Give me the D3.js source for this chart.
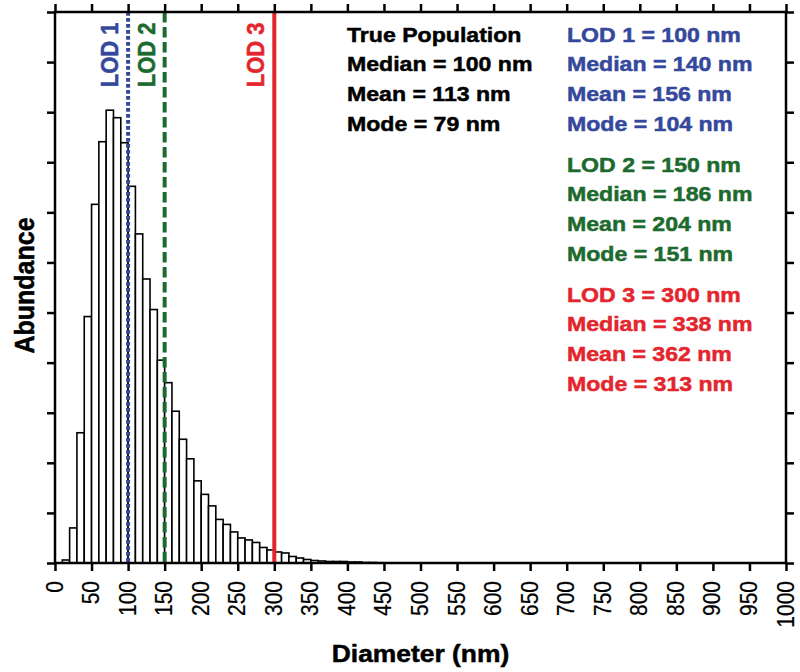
<!DOCTYPE html>
<html>
<head>
<meta charset="utf-8">
<script src="https://cdn.jsdelivr.net/npm/d3@7"></script>
<style>
  html, body { margin: 0; padding: 0; background: #fff; }
  svg { display: block; font-family: "Liberation Sans", Arial, Helvetica, sans-serif; }
</style>
</head>
<body>
<svg id="chart" width="800" height="672"></svg>
<script>
// ---- data ----
const binStarts = [0,10,20,30,40,50,60,70,80,90,100,110,120,130,140,150,160,170,180,190,
  200,210,220,230,240,250,260,270,280,290,300,310,320,330,340,350,360,370,380,390,
  400,410,420,430,440];
const abundance = [0,0.06,0.70,2.60,4.92,7.16,8.41,9.04,8.89,8.39,7.52,6.57,5.67,5.06,4.05,3.60,3.03,2.47,2.08,1.64,
  1.37,1.14,0.87,0.77,0.62,0.50,0.46,0.41,0.31,0.26,0.22,0.20,0.13,0.10,0.07,0.05,0.04,0.03,0.03,0.03,
  0.02,0.02,0.01,0.01,0.005];
const binWidth = 10;
const xTickValues = [0,50,100,150,200,250,300,350,400,450,500,550,600,650,700,750,800,850,900,950,1000];
const yTickValues = [0,1,2,3,4,5,6,7,8,9,10,11];
const lodNames = ["LOD 1","LOD 2","LOD 3"];
const lodValues = [100,150,300];
const lodColors = ["#34489c","#1d6a2e","#e3262d"];
const truePopLines = ["True Population","Median = 100 nm","Mean = 113 nm","Mode = 79 nm"];
const lod1Lines = ["LOD 1 = 100 nm","Median = 140 nm","Mean = 156 nm","Mode = 104 nm"];
const lod2Lines = ["LOD 2 = 150 nm","Median = 186 nm","Mean = 204 nm","Mode = 151 nm"];
const lod3Lines = ["LOD 3 = 300 nm","Median = 338 nm","Mean = 362 nm","Mode = 313 nm"];

// ---- layout ----
const svg = d3.select("#chart");
const L = 55, R = 786, T = 12, B = 563;
const SX = 1.1; // horizontal stretch of text
const x = d3.scaleLinear().domain([0,1000]).range([L,R]);
const y = d3.scaleLinear().domain([0,11]).range([B,T]);

// bars
svg.append("g").selectAll("rect").data(binStarts.map((s,i)=>({s, v: abundance[i]})).filter(d=>d.v>0))
  .join("rect")
  .attr("x", d => x(d.s))
  .attr("width", d => x(d.s+binWidth)-x(d.s))
  .attr("y", d => y(d.v))
  .attr("height", d => y(0)-y(d.v))
  .attr("fill", "#fff")
  .attr("stroke", "#000")
  .attr("stroke-width", 1.6);

// LOD lines
const lodDash = ["3.8,2.2", "10.5,4.5", null];
lodValues.forEach((v,i) => {
  const ln = svg.append("line")
    .attr("x1", x(v)).attr("x2", x(v))
    .attr("y1", T).attr("y2", B)
    .attr("stroke", lodColors[i])
    .attr("stroke-width", 4);
  if (lodDash[i]) ln.attr("stroke-dasharray", lodDash[i]);
  svg.append("text")
    .attr("transform", `translate(${x(v)-10},22.5) scale(${SX},1) rotate(-90)`)
    .attr("text-anchor", "end")
    .attr("font-size", 22)
    .attr("font-weight", "bold")
    .attr("fill", lodColors[i])
    .attr("stroke", lodColors[i]).attr("stroke-width", 0.5)
    .text(lodNames[i]);
});

// axes
const tickLen = 8;
function styleAxis(g) {
  g.select(".domain").remove();
  g.selectAll(".tick line").attr("stroke", "#000").attr("stroke-width", 2.5);
  g.selectAll(".tick text").remove();
}
svg.append("g").attr("transform", `translate(0,${B})`)
  .call(d3.axisBottom(x).tickValues(xTickValues).tickSize(tickLen)).call(styleAxis);
svg.append("g").attr("transform", `translate(0,${T})`)
  .call(d3.axisTop(x).tickValues(xTickValues).tickSize(tickLen)).call(styleAxis);
svg.append("g").attr("transform", `translate(${L},0)`)
  .call(d3.axisLeft(y).tickValues(yTickValues).tickSize(tickLen)).call(styleAxis);
svg.append("g").attr("transform", `translate(${R},0)`)
  .call(d3.axisRight(y).tickValues(yTickValues).tickSize(tickLen)).call(styleAxis);

// frame
svg.append("rect").attr("x", L).attr("y", T).attr("width", R-L).attr("height", B-T)
  .attr("fill", "none").attr("stroke", "#000").attr("stroke-width", 2.5);

// x tick labels (rotated)
svg.append("g").selectAll("text").data(xTickValues).join("text")
  .attr("transform", d => `translate(${x(d)+7.5},581) scale(${SX},1) rotate(-90)`)
  .attr("text-anchor", "end")
  .attr("font-size", 21)
  .attr("fill", "#000")
  .attr("stroke", "#000").attr("stroke-width", 0.2)
  .text(d => d);

// axis titles
svg.append("text")
  .attr("transform", `translate(${(L+R)/2},662) scale(${SX},1)`)
  .attr("text-anchor", "middle")
  .attr("font-size", 24)
  .attr("font-weight", "bold")
  .attr("stroke", "#000").attr("stroke-width", 0.5)
  .text("Diameter (nm)");
svg.append("text")
  .attr("transform", `translate(34,${(T+B)/2 - 2}) scale(${SX},1) rotate(-90)`)
  .attr("text-anchor", "middle")
  .attr("font-size", 25)
  .attr("font-weight", "bold")
  .attr("stroke", "#000").attr("stroke-width", 0.5)
  .text("Abundance");

// annotation blocks
function block(lines, x0, y0, color) {
  lines.forEach((t,i) => {
    svg.append("text")
      .attr("transform", `translate(${x0},${y0 + i*29.6}) scale(${SX},1)`)
      .attr("font-size", 21)
      .attr("font-weight", "bold")
      .attr("fill", color)
      .attr("stroke", color).attr("stroke-width", 0.5)
      .text(t);
  });
}
block(truePopLines, 347, 41.7, "#000");
block(lod1Lines, 567, 41.7, lodColors[0]);
block(lod2Lines, 567, 171.7, lodColors[1]);
block(lod3Lines, 567, 301.7, lodColors[2]);
</script>
</body>
</html>
